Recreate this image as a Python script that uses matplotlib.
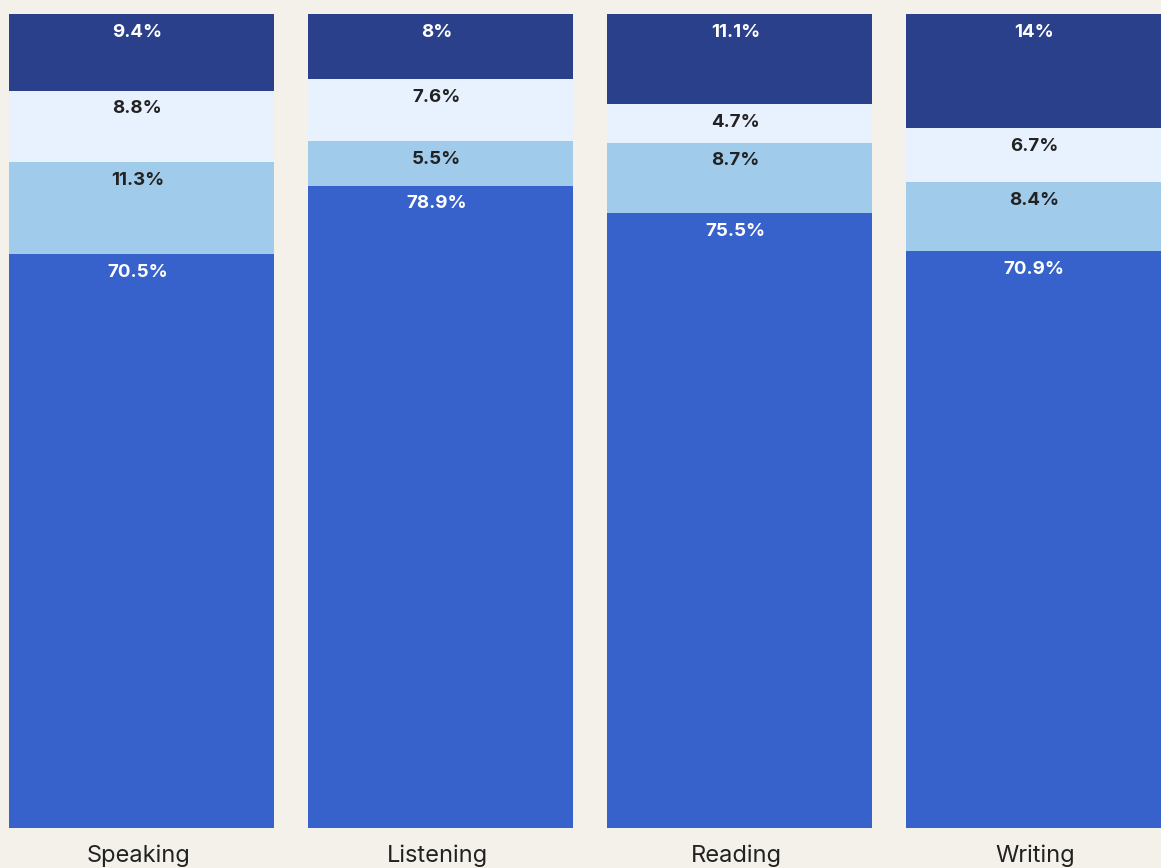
import numpy as np
import matplotlib
matplotlib.use("Agg")
from matplotlib import pyplot as plt
from matplotlib import transforms

plt.rcParams['font.family'] = ['Inter', 'DejaVu Sans']

skills = ["Speaking", "Listening", "Reading", "Writing"]
# shares per skill, stacked bottom -> top
seg_main = [70.5, 78.9, 75.5, 70.9]
seg_second = [11.3, 5.5, 8.7, 8.4]
seg_third = [8.8, 7.6, 4.7, 6.7]
seg_top = [9.4, 8, 11.1, 14]

BG = "#F4F1EB"
colors = ["#3761CB", "#A0CBEA", "#E8F2FE", "#2B408B"]
text_colors = ["white", "#222222", "#222222", "white"]


def fmt(v):
    """整数なら小数点なしで表示"""
    return "%g%%" % v


def main():
    fig = plt.figure(figsize=(11.61, 8.68), dpi=100, facecolor=BG)
    ax = fig.add_axes([0, 40 / 868, 1, 814 / 868])
    ax.set_facecolor(BG)

    x = np.arange(len(skills))
    width = 265 / 299
    bottom = np.zeros(len(skills))
    for vals, c, tc in zip([seg_main, seg_second, seg_third, seg_top], colors, text_colors):
        vals = np.array(vals, dtype=float)
        ax.bar(x, vals, width, bottom=bottom, color=c, linewidth=0)
        for xi, b, v in zip(x, bottom, vals):
            ax.annotate(fmt(v), xy=(xi, b + v), xytext=(-3, -7), textcoords="offset points",
                        ha="center", va="top", color=tc, fontsize=13.5, fontweight="bold")
        bottom += vals

    ax.set_xlim(-0.4732, 3.4097)
    ax.set_ylim(0, 100)
    ax.set_xticks(x)
    ax.set_xticklabels(skills, fontsize=17, color="#222222")
    ax.tick_params(axis="x", length=0, pad=12)
    # ラベルを少し左へ
    shift = transforms.ScaledTranslation(-3 / 100, 0, fig.dpi_scale_trans)
    for lbl in ax.get_xticklabels():
        lbl.set_transform(lbl.get_transform() + shift)
    ax.tick_params(axis="y", left=False, labelleft=False)
    for s in ax.spines.values():
        s.set_visible(False)

    fig.savefig("out.png", dpi=100, facecolor=BG)


if __name__ == "__main__":
    main()
